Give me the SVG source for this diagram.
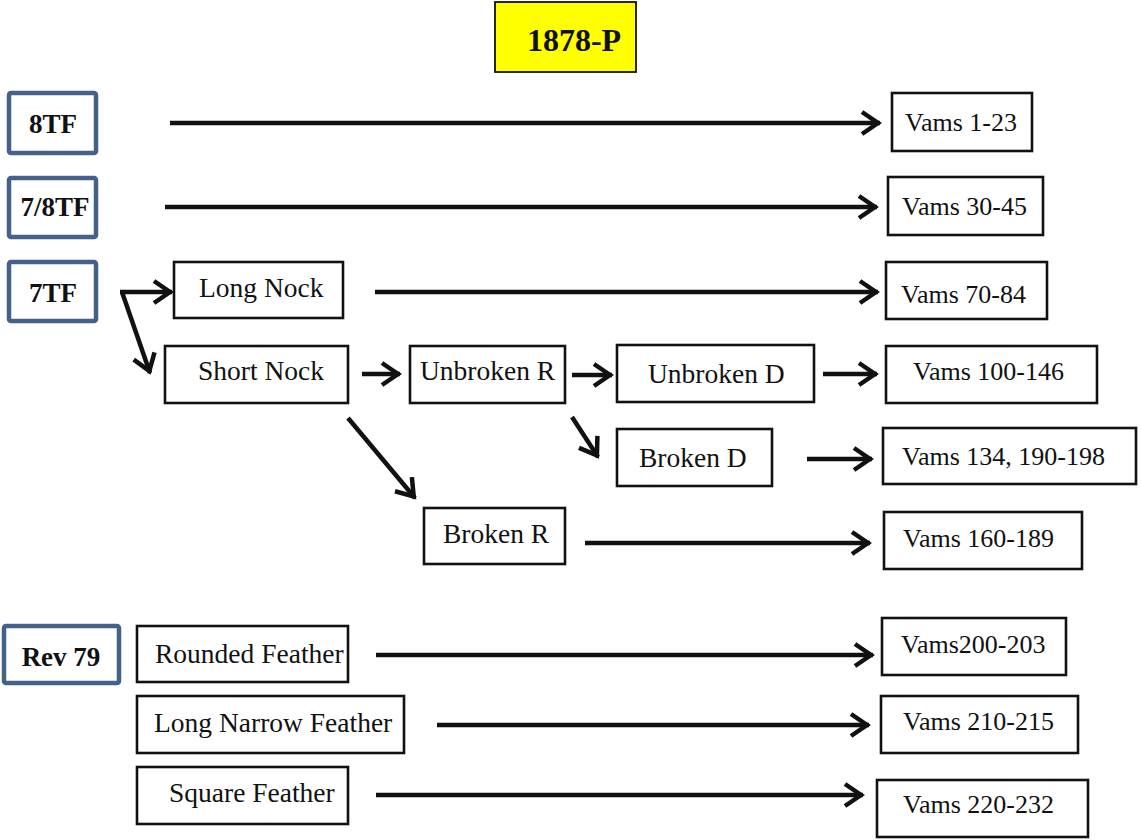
<svg xmlns="http://www.w3.org/2000/svg" width="1141" height="840" viewBox="0 0 1141 840">
<style>
.bx{fill:#fff;stroke:#111;stroke-width:2.6}
.bl{fill:#fff;stroke:#43618b;stroke-width:4.5}
.t{font-family:"Liberation Serif","Times New Roman",serif;font-size:27.5px;fill:#111}
.v{font-family:"Liberation Serif","Times New Roman",serif;font-size:26px;fill:#111}
.b{font-family:"Liberation Serif","Times New Roman",serif;font-size:27px;font-weight:bold;fill:#111;text-anchor:middle}
.c{fill:none;stroke:#111;stroke-width:4.5;marker-end:url(#ah)}
</style>
<defs>
<marker id="ah" viewBox="-22 -15 30 30" markerWidth="30" markerHeight="30" refX="2" refY="0" orient="auto" markerUnits="userSpaceOnUse">
<path d="M-16,-11 L0,0 L-16,11" fill="none" stroke="#111" stroke-width="4.5" stroke-linejoin="miter"/>
</marker>
</defs>
<rect width="1141" height="840" fill="#fff"/>
<g id="title">
<rect x="495" y="2" width="141" height="70" fill="#ffff00" stroke="#111" stroke-width="1.8"/>
<text x="574" y="51" font-family="Liberation Serif, Times New Roman, serif" font-size="32" font-weight="bold" fill="#111" text-anchor="middle">1878-P</text>
</g>
<g id="n-8tf"><rect class="bl" x="9" y="93" width="87" height="60" rx="2"/><text class="b" x="53" y="133">8TF</text></g>
<g id="n-78tf"><rect class="bl" x="9" y="178" width="87" height="59" rx="2"/><text class="b" x="55" y="216">7/8TF</text></g>
<g id="n-7tf"><rect class="bl" x="9" y="262" width="87" height="59" rx="2"/><text class="b" x="53" y="302">7TF</text></g>
<g id="n-rev79"><rect class="bl" x="4" y="626" width="115" height="57" rx="2"/><text class="b" x="61" y="666">Rev 79</text></g>
<g id="n-longnock"><rect class="bx" x="174" y="262" width="169" height="56"/><text class="t" x="199" y="297">Long Nock</text></g>
<g id="n-shortnock"><rect class="bx" x="165" y="346" width="183" height="57"/><text class="t" x="198" y="380">Short Nock</text></g>
<g id="n-unbrokenr"><rect class="bx" x="410" y="346" width="155" height="57"/><text class="t" x="420" y="380">Unbroken R</text></g>
<g id="n-unbrokend"><rect class="bx" x="617" y="345" width="197" height="57"/><text class="t" x="648" y="383">Unbroken D</text></g>
<g id="n-brokend"><rect class="bx" x="617" y="429" width="155" height="57"/><text class="t" x="639" y="467">Broken D</text></g>
<g id="n-brokenr"><rect class="bx" x="424" y="508" width="141" height="56"/><text class="t" x="443" y="543">Broken R</text></g>
<g id="n-rounded"><rect class="bx" x="137" y="626" width="211" height="56"/><text class="t" x="155" y="663">Rounded Feather</text></g>
<g id="n-longnarrow"><rect class="bx" x="137" y="696" width="267" height="57"/><text class="t" x="154" y="732">Long Narrow Feather</text></g>
<g id="n-square"><rect class="bx" x="137" y="767" width="211" height="57"/><text class="t" x="169" y="802">Square Feather</text></g>
<g id="n-v1"><rect class="bx" x="892" y="93" width="140" height="58"/><text class="v" x="905" y="131">Vams 1-23</text></g>
<g id="n-v30"><rect class="bx" x="888" y="177" width="155" height="58"/><text class="v" x="902" y="215">Vams 30-45</text></g>
<g id="n-v70"><rect class="bx" x="886" y="262" width="161" height="57"/><text class="v" x="901" y="303">Vams 70-84</text></g>
<g id="n-v100"><rect class="bx" x="886" y="346" width="211" height="57"/><text class="v" x="913" y="380">Vams 100-146</text></g>
<g id="n-v134"><rect class="bx" x="883" y="428" width="253" height="56"/><text class="v" x="902" y="465">Vams 134, 190-198</text></g>
<g id="n-v160"><rect class="bx" x="884" y="512" width="198" height="57"/><text class="v" x="903" y="547">Vams 160-189</text></g>
<g id="n-v200"><rect class="bx" x="882" y="618" width="184" height="57"/><text class="v" x="901" y="653">Vams200-203</text></g>
<g id="n-v210"><rect class="bx" x="881" y="696" width="197" height="57"/><text class="v" x="903" y="730">Vams 210-215</text></g>
<g id="n-v220"><rect class="bx" x="877" y="780" width="211" height="57"/><text class="v" x="903" y="813">Vams 220-232</text></g>
<g id="connectors">
<path class="c" d="M170,123 L880,123"/>
<path class="c" d="M165,207 L877,207"/>
<path class="c" d="M375,292 L878,292"/>
<path class="c" d="M120,292 L172,292"/>
<path class="c" d="M122,292 L150,373"/>
<path class="c" d="M362,374 L400,374"/>
<path class="c" d="M572,375 L612,375"/>
<path class="c" d="M823,374 L877,374"/>
<path class="c" d="M572,417 L598,457"/>
<path class="c" d="M807,459 L872,459"/>
<path class="c" d="M348,418 L415,498"/>
<path class="c" d="M585,543 L870,543"/>
<path class="c" d="M376,655 L873,655"/>
<path class="c" d="M437,725 L869,725"/>
<path class="c" d="M376,795 L863,795"/>
</g>
</svg>
